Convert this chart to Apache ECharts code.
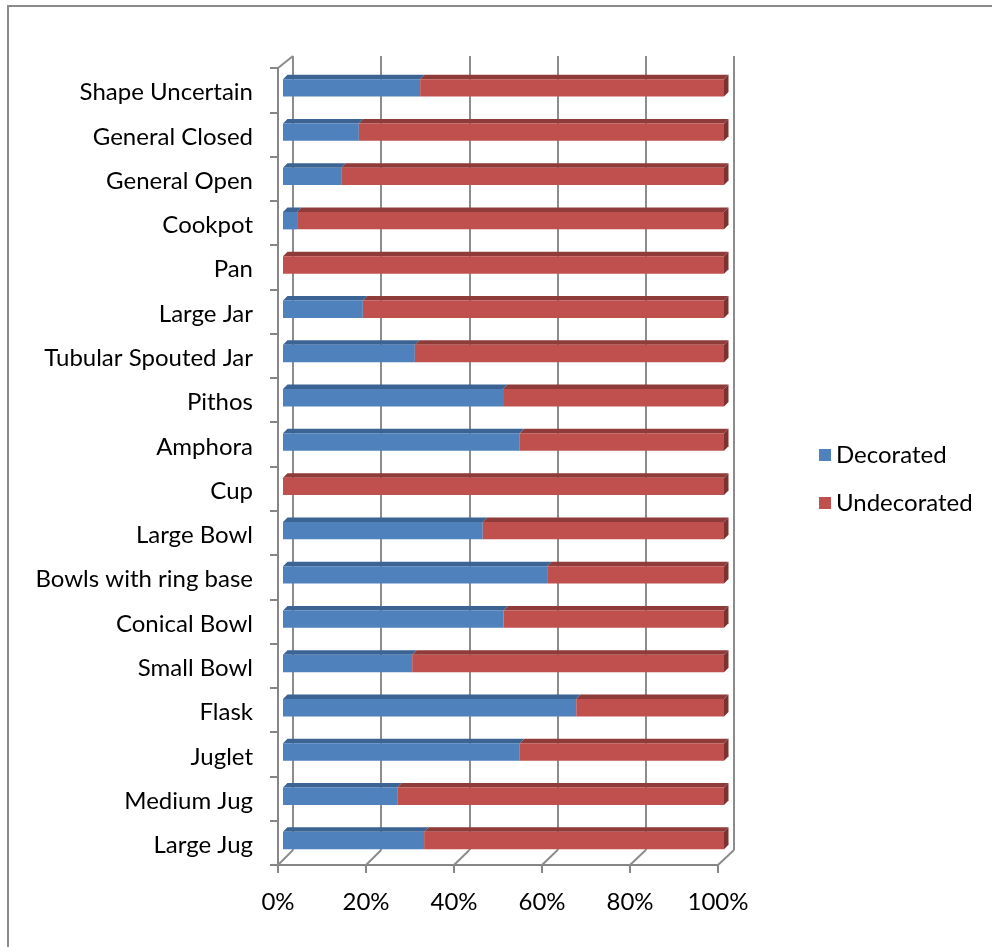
<!DOCTYPE html>
<html>
<head>
<meta charset="utf-8">
<script src="https://cdn.jsdelivr.net/npm/echarts@6/dist/echarts.min.js"></script>
<style>
  html, body { margin: 0; padding: 0; background: #fff; }
  #chart { width: 992px; height: 947px; }
</style>
</head>
<body>
<div id="chart"></div>
<script>
// categories listed bottom to top, the way the category axis lays them out
var categories = ['Large Jug', 'Medium Jug', 'Juglet', 'Flask', 'Small Bowl', 'Conical Bowl',
  'Bowls with ring base', 'Large Bowl', 'Cup', 'Amphora', 'Pithos', 'Tubular Spouted Jar',
  'Large Jar', 'Pan', 'Cookpot', 'General Open', 'General Closed', 'Shape Uncertain']
var decorated = [32, 25.9, 53.7, 66.5, 29.3, 50, 59.9, 45.3, 0, 53.7, 49.9, 29.9, 18.1, 0, 3.2, 13.2, 17.2, 31.1]
var undecorated = [68, 74.1, 46.3, 33.5, 70.7, 50, 40.1, 54.7, 100, 46.3, 50.1, 70.1, 81.9, 100, 96.8, 86.8, 82.8, 68.9]
var tickValues = [0, 20, 40, 60, 80, 100]

var FONT = 'Lato'
var chart = echarts.init(document.getElementById('chart'))

// stacked segments: [category index, start, end]
var decoData = decorated.map(function (v, i) { return [i, 0, v] })
var undecoData = undecorated.map(function (v, i) { return [i, decorated[i], decorated[i] + v] })

// draws one bar segment with a small 3D top (and the end cap on the last segment)
function makeRender(front, top, side) {
  return function (params, api) {
    var cat = api.value(0)
    var s = api.value(1)
    var e = api.value(2)
    if (e - s <= 0) return null
    var p0 = api.coord([s, cat])
    var p1 = api.coord([e, cat])
    var y0 = p0[1] - 11
    var h = 17.4
    var dx = 4.5, dy = 4.5
    var kids = [
      {
        type: 'polygon',
        shape: { points: [[p0[0], y0], [p1[0], y0], [p1[0] + dx, y0 - dy], [p0[0] + dx, y0 - dy]] },
        style: { fill: top }
      },
      {
        type: 'rect',
        shape: { x: p0[0], y: y0, width: p1[0] - p0[0], height: h },
        style: { fill: front }
      }
    ]
    if (e >= 99.9) {
      kids.push({
        type: 'polygon',
        shape: { points: [[p1[0], y0], [p1[0] + dx, y0 - dy], [p1[0] + dx, y0 + h - dy], [p1[0], y0 + h]] },
        style: { fill: side }
      })
    }
    return { type: 'group', children: kids }
  }
}

chart.setOption({
  animation: false,
  textStyle: { fontFamily: FONT },
  grid: [
    { left: 283, right: 268, top: 68, bottom: 82 }, // bars (mid depth)
    { left: 278, right: 274, top: 68, bottom: 82 }, // front axes
    { left: 293, right: 258, top: 56, bottom: 97 } // back wall
  ],
  xAxis: [
    { gridIndex: 0, type: 'value', min: 0, max: 100, show: false },
    {
      gridIndex: 1, type: 'value', min: 0, max: 100, interval: 20,
      axisLine: { show: true, lineStyle: { color: '#868686', width: 2 } },
      axisTick: { show: true, length: 8, lineStyle: { color: '#868686', width: 2 } },
      splitLine: { show: false },
      axisLabel: { formatter: '{value}%', color: '#000', fontSize: 24, margin: 25, fontFamily: FONT }
    },
    {
      gridIndex: 2, type: 'value', min: 0, max: 100, interval: 20,
      axisLine: { show: false }, axisTick: { show: false }, axisLabel: { show: false },
      splitLine: { show: true, lineStyle: { color: '#8c8c8c', width: 2 } }
    }
  ],
  yAxis: [
    { gridIndex: 0, type: 'category', data: categories, show: false },
    {
      gridIndex: 1, type: 'category', data: categories,
      axisLine: { show: true, lineStyle: { color: '#868686', width: 2 } },
      axisTick: { show: true, length: 8, lineStyle: { color: '#868686', width: 2 } },
      axisLabel: {
        margin: 25,
        formatter: '{t|{value}}',
        rich: { t: { color: '#000', fontSize: 24, fontFamily: FONT, padding: [5, 0, 0, 0] } }
      }
    },
    { gridIndex: 2, type: 'category', data: categories, show: false }
  ],
  legend: {
    orient: 'vertical',
    left: 814,
    top: 438,
    icon: 'rect',
    itemWidth: 12,
    itemHeight: 12,
    itemGap: 24,
    textStyle: { color: '#000', fontSize: 24, fontFamily: FONT },
    data: ['Decorated', 'Undecorated']
  },
  series: [
    {
      name: 'Decorated', type: 'custom', xAxisIndex: 0, yAxisIndex: 0,
      itemStyle: { color: '#4F81BD' },
      renderItem: makeRender('#4F81BD', '#3B6393', '#2f5480'),
      encode: { x: [1, 2], y: 0 },
      data: decoData
    },
    {
      name: 'Undecorated', type: 'custom', xAxisIndex: 0, yAxisIndex: 0,
      itemStyle: { color: '#C0504D' },
      renderItem: makeRender('#C0504D', '#8E3B39', '#7f3130'),
      encode: { x: [1, 2], y: 0 },
      data: undecoData
    }
  ]
})

// floor and wall edges joining the front axes to the back wall
var lineStyle = { stroke: '#8c8c8c', lineWidth: 2 }
var floorFront = 865, floorBack = 850
var edges = tickValues.map(function (v) {
  var xf = chart.convertToPixel({ xAxisIndex: 1 }, v)
  var xb = chart.convertToPixel({ xAxisIndex: 2 }, v)
  return { type: 'line', shape: { x1: xf, y1: floorFront, x2: xb, y2: floorBack }, style: lineStyle, z: 1 }
})
edges.push({
  type: 'line',
  shape: { x1: chart.convertToPixel({ xAxisIndex: 1 }, 0), y1: 68, x2: chart.convertToPixel({ xAxisIndex: 2 }, 0), y2: 56 },
  style: lineStyle, z: 1
})
// outer chart frame
edges.push({
  type: 'rect', shape: { x: 8, y: 6, width: 1100, height: 1100 },
  style: { fill: 'none', stroke: '#8a8a8a', lineWidth: 2 }, z: 0
})
chart.setOption({ graphic: edges })
</script>
</body>
</html>
